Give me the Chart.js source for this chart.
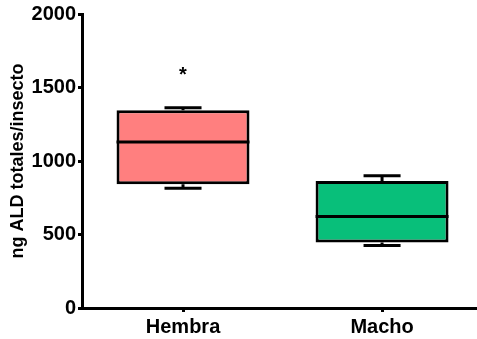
<!DOCTYPE html>
<html lang="es">
<head>
    <meta charset="UTF-8">
    <title>ng ALD totales/insecto</title>
    <script src="https://cdn.jsdelivr.net/npm/chart.js@4.4.1/dist/chart.umd.min.js"></script>
    <style>
        body { margin: 0; background: #fff; }
        .chart-container { position: relative; width: 477px; height: 339px; }
    </style>
</head>
<body>
    <div class="chart-container">
        <canvas id="boxChart"></canvas>
    </div>

    <script>
        // --- Data ---
        const categories = ['Hembra', 'Macho'];
        const whiskerMin = [815, 425];
        const q1 = [842, 445];
        const median = [1130, 622];
        const q3 = [1345, 864];
        const whiskerMax = [1363, 900];
        const boxColors = ['#FF7F7F', '#08BF7A'];
        const sigMarks = ['*', ''];
        const sigY = [1622, null];
        const yTicks = [0, 500, 1000, 1500, 2000];

        const boxHalf = 0.334;   // half box width, in category units
        const capHalf = 0.093;   // half whisker cap width

        // boxes as floating bars
        const boxData = categories.map((c, i) => ({ x: i, y: [q1[i], q3[i]] }));

        // median + whiskers as one broken line
        const linePts = [];
        categories.forEach((c, i) => {
            linePts.push({ x: i - boxHalf, y: median[i] }, { x: i + boxHalf, y: median[i] }, { x: i, y: null });
            linePts.push({ x: i, y: q3[i] }, { x: i, y: whiskerMax[i] }, { x: i, y: null });
            linePts.push({ x: i - capHalf, y: whiskerMax[i] }, { x: i + capHalf, y: whiskerMax[i] }, { x: i, y: null });
            linePts.push({ x: i, y: q1[i] }, { x: i, y: whiskerMin[i] }, { x: i, y: null });
            linePts.push({ x: i - capHalf, y: whiskerMin[i] }, { x: i + capHalf, y: whiskerMin[i] }, { x: i, y: null });
        });

        // significance asterisk
        const sigPlugin = {
            id: 'sigPlugin',
            afterDatasetsDraw(chart) {
                const { ctx, scales } = chart;
                ctx.save();
                ctx.font = 'bold 20px "Liberation Sans", Arial, sans-serif';
                ctx.fillStyle = '#000';
                ctx.textAlign = 'center';
                ctx.textBaseline = 'alphabetic';
                sigMarks.forEach((m, i) => {
                    if (!m) return;
                    ctx.fillText(m, scales.x.getPixelForValue(i), scales.y.getPixelForValue(sigY[i]) + 11);
                });
                ctx.restore();
            }
        };

        const axisFont = { family: '"Liberation Sans", Arial, sans-serif', size: 20, weight: 'bold' };

        new Chart(document.getElementById('boxChart'), {
            data: {
                datasets: [
                    {
                        type: 'bar',
                        data: boxData,
                        backgroundColor: boxColors,
                        borderColor: '#000',
                        borderWidth: 3,
                        borderSkipped: false,
                        categoryPercentage: 1,
                        barPercentage: 2 * boxHalf,
                        order: 2
                    },
                    {
                        type: 'line',
                        data: linePts,
                        borderColor: '#000',
                        borderWidth: 3,
                        pointRadius: 0,
                        spanGaps: false,
                        order: 1
                    }
                ]
            },
            options: {
                responsive: true,
                maintainAspectRatio: false,
                animation: false,
                layout: { padding: { top: 7, right: 0, left: 0, bottom: 0 } },
                plugins: { legend: { display: false }, tooltip: { enabled: false } },
                scales: {
                    x: {
                        type: 'linear',
                        offset: false,
                        min: -0.5075,
                        max: 1.477,
                        afterBuildTicks: (scale) => { scale.ticks = categories.map((c, i) => ({ value: i })); },
                        afterFit: (scale) => { scale.height = 31; },
                        ticks: {
                            callback: (v) => categories[v] ?? '',
                            font: axisFont, color: '#000', padding: 3, maxRotation: 0
                        },
                        grid: { display: true, offset: false, drawOnChartArea: false, tickLength: 4, tickWidth: 3, color: '#000' },
                        border: { display: true, width: 3, color: '#000' }
                    },
                    y: {
                        min: 0,
                        max: 2000,
                        afterBuildTicks: (scale) => { scale.ticks = yTicks.map(v => ({ value: v })); },
                        afterFit: (scale) => { scale.width = 82; },
                        title: {
                            display: true,
                            text: 'ng ALD totales/insecto',
                            font: { family: '"Liberation Sans", Arial, sans-serif', size: 18, weight: 'bold' },
                            color: '#000',
                            padding: { top: 7, bottom: 0 }
                        },
                        ticks: { callback: (v) => String(v), font: axisFont, color: '#000', padding: 2 },
                        grid: { display: true, drawOnChartArea: false, tickLength: 4, tickWidth: 3, color: '#000' },
                        border: { display: true, width: 3, color: '#000' }
                    }
                }
            },
            plugins: [sigPlugin]
        });
    </script>
</body>
</html>
